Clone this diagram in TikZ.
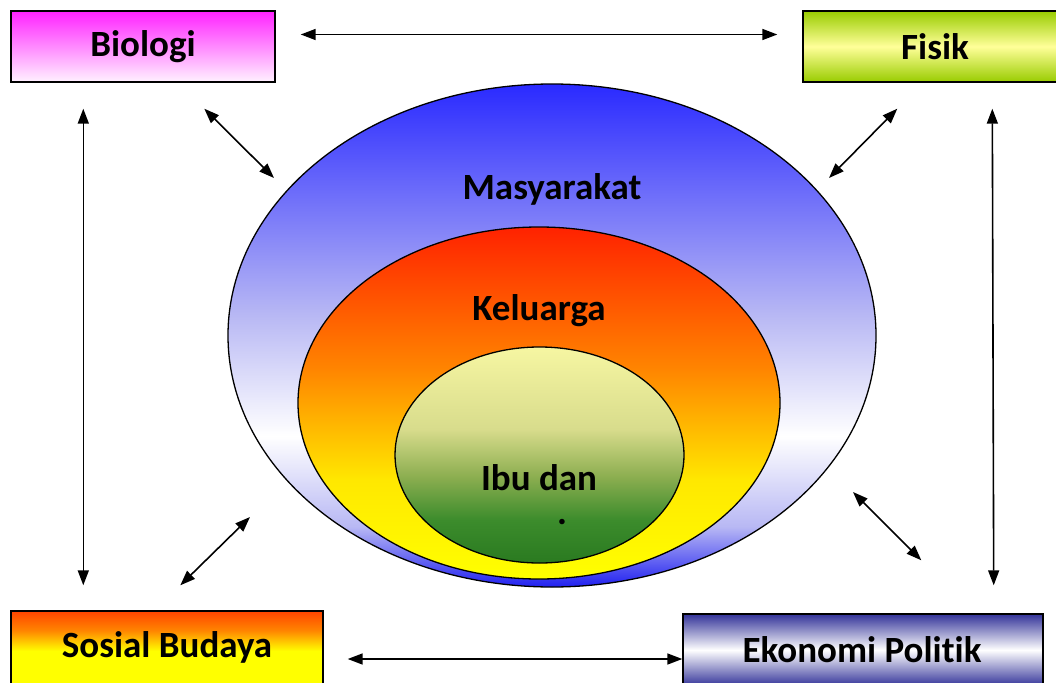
\documentclass[tikz,border=0pt]{standalone}
\usepackage{fontspec}
\setmainfont{Carlito}[Ligatures={TeX,NoCommon}]
\usetikzlibrary{arrows.meta,calc,shapes.geometric}
\definecolor{obl}{HTML}{2A2AFF}
\definecolor{obb}{HTML}{2020F0}
\definecolor{oli}{HTML}{B8B8F4}
\definecolor{mred}{HTML}{FF2200}
\definecolor{mora}{HTML}{FF8400}
\definecolor{myel}{HTML}{FFE800}
\definecolor{yel}{HTML}{FFFF00}
\definecolor{ilt}{HTML}{F6F6A2}
\definecolor{imd}{HTML}{D8DC8C}
\definecolor{igr}{HTML}{8CAE50}
\definecolor{idk}{HTML}{3C8C2C}
\definecolor{idd}{HTML}{2A7A20}
\definecolor{mag}{HTML}{FF22FF}
\definecolor{magl}{HTML}{FFF2FF}
\definecolor{fgr}{HTML}{99CC00}
\definecolor{fyl}{HTML}{FFFF99}
\definecolor{sred}{HTML}{FF4400}
\definecolor{eblu}{HTML}{333399}
\pgfdeclareverticalshading{outersh}{100bp}{color(0bp)=(obb); color(25bp)=(obb); color(31bp)=(oli); color(40bp)=(white); color(52bp)=(oli); color(75bp)=(obl); color(100bp)=(obl)}
\pgfdeclareverticalshading{midsh}{100bp}{color(0bp)=(yel); color(25bp)=(yel); color(39bp)=(myel); color(55bp)=(mora); color(75bp)=(mred); color(100bp)=(mred)}
\pgfdeclareverticalshading{innersh}{100bp}{color(0bp)=(idd); color(25bp)=(idd); color(35bp)=(idk); color(45bp)=(igr); color(56bp)=(imd); color(75bp)=(ilt); color(100bp)=(ilt)}
\pgfdeclareverticalshading{sossh}{100bp}{color(0bp)=(yel); color(25bp)=(yel); color(48bp)=(yel); color(62bp)=(mora); color(75bp)=(sred); color(100bp)=(sred)}
\pgfdeclareverticalshading{ekosh}{100bp}{color(0bp)=(eblu); color(25bp)=(eblu); color(50bp)=(white); color(75bp)=(eblu); color(100bp)=(eblu)}
\pgfdeclareverticalshading{fissh}{100bp}{color(0bp)=(fgr); color(25bp)=(fgr); color(50bp)=(fyl); color(75bp)=(fgr); color(100bp)=(fgr)}
\tikzset{
  lbl/.style={font=\fontsize{37}{40}\selectfont\bfseries},
  boxn/.style={draw=black, line width=1.4pt, inner sep=0pt, lbl},
  ell/.style={ellipse, draw=black, line width=1.3pt, inner sep=0pt},
  conn/.style={line width=1.6pt, {Triangle[length=15pt,width=11pt]}-{Triangle[length=15pt,width=11pt]}}
}
\begin{document}
\begin{tikzpicture}[x=1pt,y=-1pt]
\useasboundingbox (0,0) rectangle (1056,682);
% boxes
\node[boxn, minimum width=264pt, minimum height=71pt, top color=mag, bottom color=magl] (bio) at (143,46.5) {};
\node[lbl] at (143,47) {Biologi};
\node[boxn, minimum width=259pt, minimum height=71pt, shading=fissh] (fis) at (932.5,46.5) {};
\node[lbl] at (935,47) {Fisik};
\node[boxn, minimum width=312pt, minimum height=74pt, shading=sossh] (sos) at (167,648) {};
\node[lbl] at (167,647) {Sosial Budaya};
\node[boxn, minimum width=360pt, minimum height=72pt, shading=ekosh] (eko) at (863,650) {};
\node[lbl] at (862,650) {Ekonomi Politik};
% ellipses
\node[ell, minimum width=648pt, minimum height=503pt, shading=outersh] (outer) at (552,335.5) {};
\node[ell, minimum width=482pt, minimum height=352pt, shading=midsh] (mid) at (539,403) {};
\node[ell, minimum width=289pt, minimum height=216pt, shading=innersh] (inner) at (539.5,455) {};
\node[lbl] (tmas) at (552,189) {Masyarakat};
\node[lbl] (tkel) at (539,311) {Keluarga};
\node[lbl] (tibu) at (539,478) {Ibu dan};
\node[lbl, inner sep=0pt] (tdot) at (562,522) {.};
% connectors
\draw[conn] ($(bio.east)+(25,-12)$) -- ($(fis.west)+(-25,-12)$);
\draw[conn] ($(sos.east)+(24,11)$) -- ($(eko.west)+(0,9)$);
\draw[conn] ($(bio.south west)+(73,26)$) -- ($(sos.north west)+(73,-25)$);
\draw[conn] ($(fis.south west)+(190,26)$) -- ($(eko.north east)+(-50,-28)$);
\draw[conn] ($(bio.south west)+(194,26)$) -- ($(outer.center)+(-278,-157.5)$);
\draw[conn] ($(fis.south west)+(95,26)$) -- ($(outer.center)+(277,-157.5)$);
\draw[conn] ($(sos.north west)+(170,-25)$) -- ($(outer.center)+(-302,181.5)$);
\draw[conn] ($(eko.north west)+(239,-53)$) -- ($(outer.center)+(301,156.5)$);
\end{tikzpicture}
\end{document}
